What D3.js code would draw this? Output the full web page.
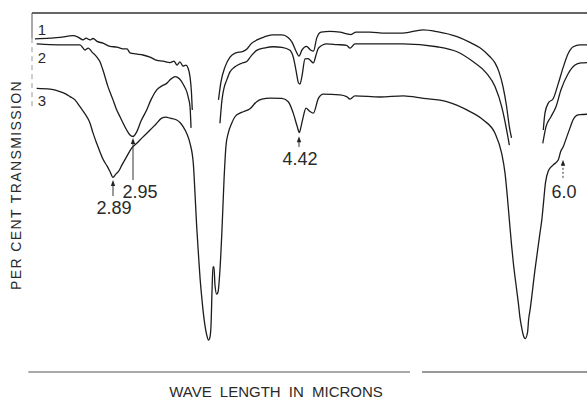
<!DOCTYPE html>
<html>
<head>
<meta charset="utf-8">
<script src="https://cdn.jsdelivr.net/npm/d3@7/dist/d3.min.js"></script>
<style>
  body { margin: 0; background: #fff; }
  svg { display: block; }
  text { font-family: "Liberation Sans", Arial, sans-serif; fill: #2a2a2a; }
</style>
</head>
<body>
<svg id="chart"></svg>
<script>
// wavelength in microns, per cent transmission (null = gap in the trace)
const curve1Wave = [2.254, 2.377, 2.458, 2.564, 2.605, 2.646, 2.670, 2.703, 2.727, 2.760,
  2.808, 2.866, 2.902, 2.920, 2.932, 2.941, 2.977, 3.039, 3.101, 3.163,
  3.216, 3.278, 3.313, 3.340, 3.366, 3.393, 3.419, 3.437, 3.455, 3.468, 3.475,
  null,
  3.707, 3.729, 3.765, 3.809, 3.862, 3.924, 3.959, 3.995, 4.048, 4.110,
  4.181, 4.269, 4.323, 4.358, 4.393, 4.420, 4.438, 4.465, 4.489, 4.507,
  4.526, 4.552, 4.606, 4.665, 4.707, 4.731, 4.761, 4.845, 4.935, 5.042,
  5.162, 5.246, 5.366, 5.443, 5.503, 5.563, 5.593, 5.617, 5.641, 5.662, 5.679, 5.692,
  null,
  5.882, 5.892, 5.912, 5.942, 5.972, 6.002, 6.031, 6.060, 6.099, 6.140];
const curve1Trans = [92.8, 93.0, 93.2, 93.7, 93.3, 92.5, 93.0, 92.5, 92.9, 92.1,
  91.6, 90.7, 90.5, 90.0, 90.0, 88.9, 88.6, 88.3, 87.7, 86.8,
  86.6, 86.2, 86.6, 85.5, 86.4, 85.2, 85.5, 84.7, 82.2, 77.7, 73.0,
  null,
  75.8, 80.8, 85.0, 87.7, 88.9, 89.3, 90.0, 91.4, 92.5, 93.3,
  93.9, 93.9, 93.2, 91.9, 89.4, 88.0, 89.7, 90.7, 89.7, 89.4,
  93.0, 94.7, 94.9, 94.7, 94.2, 94.0, 94.7, 94.7, 94.4, 94.4,
  95.3, 94.8, 93.4, 91.8, 90.3, 87.8, 86.1, 83.6, 79.5, 74.1, 68.3, 65.2,
  null,
  67.4, 72.1, 74.9, 76.2, 80.4, 85.0, 88.8, 90.6, 91.1, 91.1];

const curve2Wave = [2.268, 2.377, 2.499, 2.621, 2.662, 2.689, 2.719, 2.757, 2.784, 2.808,
  2.849, 2.890, 2.899, 2.911, 2.931, 2.941, 2.950, 2.983, 3.021, 3.071,
  3.109, 3.160, 3.207, 3.248, 3.286, 3.322, 3.348, 3.381, 3.402, 3.426, 3.441, 3.455, 3.464,
  null,
  3.720, 3.738, 3.756, 3.780, 3.809, 3.853, 3.913, 3.957, 3.995, 4.045,
  4.119, 4.192, 4.269, 4.340, 4.371, 4.393, 4.416, 4.426, 4.438, 4.456,
  4.474, 4.486, 4.506, 4.522, 4.536, 4.586, 4.647, 4.705, 4.725, 4.755,
  4.845, 5.042, 5.246, 5.366, 5.463, 5.543, 5.593, 5.633, 5.659, 5.679,
  null,
  5.879, 5.898, 5.928, 5.958, 5.988, 6.029, 6.070, 6.105, 6.140];
const curve2Trans = [91.4, 91.2, 91.1, 91.1, 89.7, 90.2, 89.1, 87.8, 86.4, 84.1,
  79.5, 75.8, 73.5, 71.1, 67.4, 66.0, 65.6, 66.9, 69.9, 73.0,
  75.8, 78.6, 79.7, 80.4, 81.6, 82.3, 82.0, 80.9, 79.7, 78.1, 76.3, 73.9, 68.0,
  null,
  69.3, 75.8, 79.1, 81.3, 83.6, 85.0, 86.0, 86.5, 88.0, 89.6,
  90.3, 90.6, 90.4, 89.6, 87.5, 84.1, 80.5, 80.2, 82.5, 87.2,
  87.3, 86.9, 86.1, 88.3, 90.2, 91.4, 91.2, 91.0, 90.2, 91.4,
  91.4, 91.4, 90.6, 89.2, 86.4, 83.2, 79.5, 73.9, 68.3, 63.2,
  null,
  63.7, 68.3, 71.1, 73.9, 78.6, 83.0, 85.5, 86.1, 86.2];

const curve3Wave = [2.268, 2.377, 2.458, 2.507, 2.540, 2.580, 2.621, 2.662, 2.703, 2.727,
  2.757, 2.784, 2.811, 2.841, 2.866, 2.890, 2.899, 2.906, 2.917, 2.931,
  2.944, 2.983, 3.039, 3.101, 3.154, 3.204, 3.242, 3.278, 3.337, 3.366,
  3.395, 3.428, 3.455, 3.484, 3.499, 3.514, 3.530, 3.543, 3.561, 3.573,
  3.588, 3.603, 3.619, 3.632, 3.641, 3.650, 3.658, 3.667, 3.676, 3.691,
  3.703, 3.720, 3.738, 3.756, 3.774, 3.794, 3.824, 3.853, 3.897, 3.927,
  3.986, 4.045, 4.092, 4.163, 4.267, 4.325, 4.369, 4.405, 4.422, 4.432,
  4.444, 4.462, 4.482, 4.506, 4.536, 4.565, 4.665, 4.705, 4.725, 4.755,
  4.905, 5.044, 5.164, 5.304, 5.424, 5.523, 5.593, 5.633, 5.653, 5.667,
  5.679, 5.692, 5.703, 5.723, 5.733, 5.743, 5.753, 5.762, 5.774, 5.788,
  5.794, 5.803, 5.832, 5.862, 5.873, 5.882, 5.895, 5.912, 5.942, 5.972,
  5.986, 6.002, 6.022, 6.041, 6.058, 6.080, 6.099, 6.140];
const curve3Trans = [79.0, 78.8, 78.1, 77.4, 76.7, 75.8, 73.9, 71.9, 69.3, 66.6,
  63.7, 61.3, 59.1, 57.4, 55.8, 54.2, 55.2, 55.8, 57.7, 60.0,
  62.1, 63.7, 65.5, 67.4, 69.1, 70.7, 71.0, 70.7, 70.2, 69.5,
  68.3, 66.3, 63.7, 58.1, 49.8, 40.5, 32.6, 26.5, 20.1, 16.4,
  12.8, 10.3, 8.9, 9.8, 13.1, 22.8, 29.3, 29.3, 24.2, 21.7,
  22.3, 28.4, 39.6, 53.5, 63.2, 66.6, 69.3, 71.1, 72.1, 72.5,
  73.3, 75.3, 76.0, 76.3, 76.2, 75.3, 72.1, 68.3, 66.7, 68.3,
  70.8, 73.5, 72.7, 72.1, 76.2, 77.4, 77.2, 76.7, 76.0, 76.9,
  76.6, 76.9, 76.2, 75.3, 73.0, 70.2, 66.5, 60.9, 55.4, 48.8,
  42.3, 35.4, 30.3, 22.8, 19.1, 15.0, 12.3, 10.3, 9.3, 11.1,
  14.5, 17.3, 28.4, 38.7, 42.3, 46.5, 52.7, 56.0, 57.7, 59.1,
  61.4, 62.8, 65.5, 68.0, 70.2, 71.5, 71.7, 71.8];

// curve numbers at the left end
const curveNames = ["1", "2", "3"];
const curveNameTrans = [93.9, 86.1, 74.1];

// marked band positions
const peakLabels = ["2.89", "2.95", "4.42", "6.0"];
const peakWaves = [2.89, 2.95, 4.42, 6.0];
const peakTipTrans = [53.5, 65.2, 65.7, 59.1];
const peakTailTrans = [49.0, 53.5, 62.7, 53.5];

const width = 587, height = 400;

const svg = d3.select("#chart")
    .attr("width", width)
    .attr("height", height);

svg.append("rect").attr("width", width).attr("height", height).attr("fill", "#fff");

// the chart paper is not linear in wavelength, so the scale is pinned at the marked bands
const x = d3.scaleLinear()
    .domain([2.23, 2.89, 2.95, 4.42, 6.0, 6.14])
    .range([32, 113, 133, 299, 563, 587]);

const y = d3.scaleLinear()
    .domain([0, 100])
    .range([372, 13]);

// frame: 100% line on top, base line below
svg.append("line")
    .attr("x1", x(2.23)).attr("x2", x(6.14))
    .attr("y1", y(100)).attr("y2", y(100))
    .attr("stroke", "#333").attr("stroke-width", 1.4);

svg.append("line")
    .attr("x1", x(2.23)).attr("x2", x(2.23))
    .attr("y1", y(100)).attr("y2", y(93))
    .attr("stroke", "#555").attr("stroke-width", 1);
svg.append("line")
    .attr("x1", x(2.23)).attr("x2", x(2.23))
    .attr("y1", y(93)).attr("y2", y(73))
    .attr("stroke", "#999").attr("stroke-width", 1)
    .attr("stroke-dasharray", "5,4");

svg.append("line")
    .attr("x1", x(2.2)).attr("x2", x(5.084))
    .attr("y1", y(0)).attr("y2", y(0))
    .attr("stroke", "#555").attr("stroke-width", 1.2);
svg.append("line")
    .attr("x1", x(5.156)).attr("x2", x(6.14))
    .attr("y1", y(0)).attr("y2", y(0))
    .attr("stroke", "#333").attr("stroke-width", 1.2);

// traces
const line = d3.line()
    .defined(d => d[0] != null && d[1] != null)
    .x(d => x(d[0]))
    .y(d => y(d[1]))
    .curve(d3.curveMonotoneX);

const curves = [
    d3.zip(curve1Wave, curve1Trans),
    d3.zip(curve2Wave, curve2Trans),
    d3.zip(curve3Wave, curve3Trans)
];

svg.append("g")
    .selectAll("path")
    .data(curves)
    .enter().append("path")
    .attr("d", line)
    .attr("fill", "none")
    .attr("stroke", "#1c1c1c")
    .attr("stroke-width", 1.3)
    .attr("stroke-linejoin", "round");

// curve numbers
svg.append("g")
    .selectAll("text")
    .data(curveNames)
    .enter().append("text")
    .attr("x", x(2.311))
    .attr("y", (d, i) => y(curveNameTrans[i]))
    .attr("text-anchor", "middle")
    .attr("font-size", "15px")
    .text(d => d);

// band arrows and labels
const peaks = svg.append("g")
    .selectAll("g")
    .data(peakLabels)
    .enter().append("g");

peaks.append("line")
    .attr("x1", (d, i) => x(peakWaves[i]))
    .attr("x2", (d, i) => x(peakWaves[i]))
    .attr("y1", (d, i) => y(peakTipTrans[i]) + 4)
    .attr("y2", (d, i) => y(peakTailTrans[i]))
    .attr("stroke", "#333")
    .attr("stroke-width", 1)
    .attr("stroke-dasharray", d => d === "6.0" ? "2,2" : null);

peaks.append("path")
    .attr("d", (d, i) => {
        const px = x(peakWaves[i]), py = y(peakTipTrans[i]);
        return `M${px},${py} L${px - 2.2},${py + 6} L${px + 2.2},${py + 6} Z`;
    })
    .attr("fill", "#222");

peaks.append("text")
    .attr("x", (d, i) => x(peakWaves[i]) + (d === "2.95" ? 7 : 1))
    .attr("y", (d, i) => y(peakTailTrans[i]) + 18)
    .attr("text-anchor", "middle")
    .attr("font-size", "18px")
    .text(d => d);

// axis titles
svg.append("text")
    .attr("x", 276)
    .attr("y", 397)
    .attr("text-anchor", "middle")
    .attr("font-size", "15px")
    .attr("word-spacing", "4px")
    .text("WAVE LENGTH IN MICRONS");

svg.append("text")
    .attr("transform", "translate(20.5, 185) rotate(-90)")
    .attr("text-anchor", "middle")
    .attr("font-size", "14px")
    .attr("letter-spacing", "1.4px")
    .text("PER CENT TRANSMISSION");
</script>
</body>
</html>
